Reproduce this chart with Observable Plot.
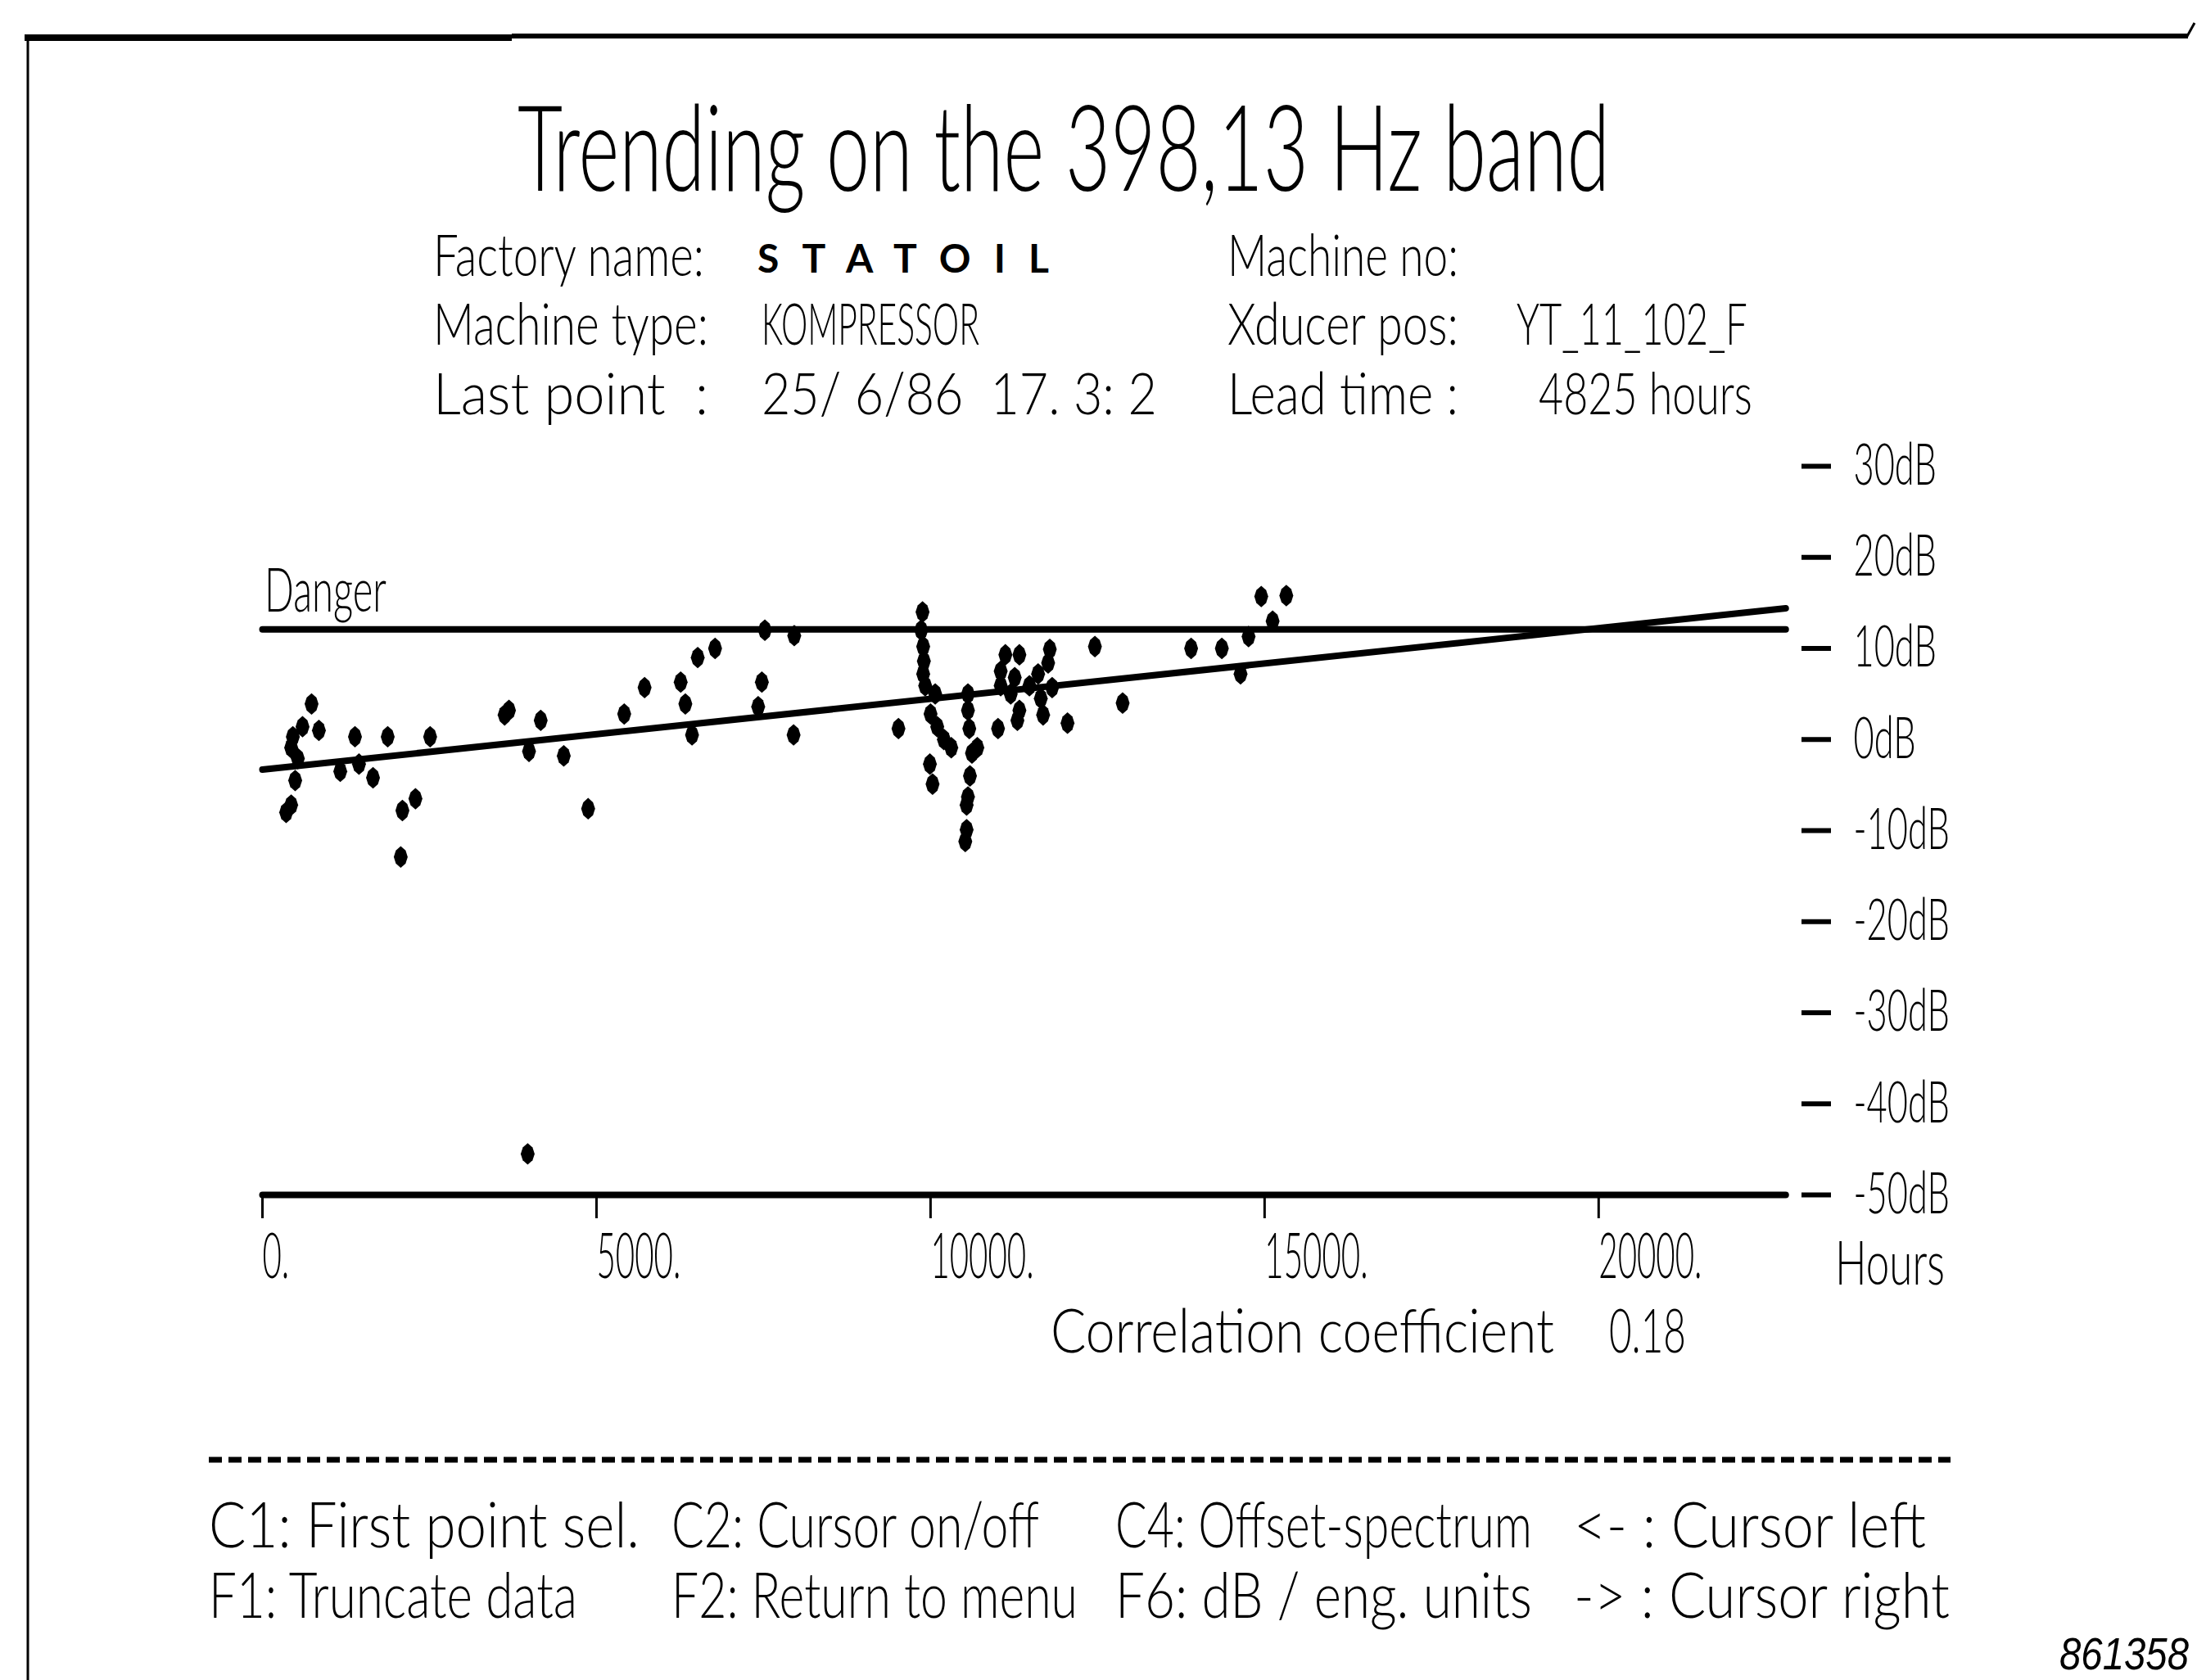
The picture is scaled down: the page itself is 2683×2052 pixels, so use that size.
<!DOCTYPE html>
<html><head><meta charset="utf-8">
<script src="https://cdn.jsdelivr.net/npm/d3@7"></script>
<script src="https://cdn.jsdelivr.net/npm/@observablehq/plot@0.6"></script>
<style>
html,body{margin:0;padding:0;background:#fff;}
#chart{position:relative;width:2683px;height:2052px;overflow:hidden;background:#fff;}
</style></head><body><div id="chart"></div>
<script>
// ---- data ----
const hours = [
  735, 455, 600, 845, 430, 530, 490, 430, 355,
  1385, 1875, 2510, 1165, 1445, 1655, 2290, 2095, 2070,
  3625, 3690, 4165, 3990, 4510, 4875,
  5415, 5720, 6260, 6330, 6430, 6515, 6775,
  7475, 7420, 7520, 7960, 7950,
  9520, 9880, 9860, 9890, 9900, 9890, 9920,
  10000, 10100, 10200, 10310, 10070, 9990, 10030,
  10560, 10560, 10580, 10700, 10620, 10590, 10560, 10540, 10540, 10520,
  11010, 11120, 11330, 11050, 11260, 11050, 11200, 11330, 11300, 11480, 11610, 11785, 11760, 11650, 11685, 11820,
  12050, 12460, 12875, 13900, 14360, 14640, 14760, 15120, 14950, 15325,
  3970
];
const levels = [
  3.9, 0.3, 1.4, 1.0, -0.9, -2.1, -4.5, -7.2, -8.0,
  0.3, 0.3, 0.3, -3.5, -2.7, -4.2, -6.5, -7.8, -12.9,
  2.7, 3.2, 2.1, -1.3, -1.8, -7.6,
  2.8, 5.7, 6.3, 3.9, 0.5, 9.0, 10.0,
  6.3, 3.6, 12.0, 11.4, 0.5,
  1.2, 14.0, 12.0, 10.2, 8.6, 7.2, 5.9,
  2.8, 1.4, 0.0, -0.9, 5.0, -2.7, -4.9,
  5.0, 3.2, 1.2, -0.9, -1.5, -4.0, -6.3, -7.2, -9.9, -11.2,
  1.2, 9.3, 9.3, 7.5, 6.8, 5.9, 5.0, 3.2, 2.1, 5.9, 7.2, 9.9, 8.4, 4.5, 2.7, 5.7,
  1.8, 10.2, 4.0, 10.0, 10.0, 7.2, 11.3, 13.0, 15.7, 15.8,
  -45.5
];
const dangerLevel = 12.1;
const lineHours = [0, 22800];        // extent of the danger line, trend line and base line
const trendLevels = [-3.3, 14.4];    // regression (trend) line at both ends
const baseLevel = -50;
const yTicks = [30, 20, 10, 0, -10, -20, -30, -40, -50];
const xTicks = [0, 5000, 10000, 15000, 20000];

// ---- tables built from the arrays ----
const points = hours.map((h, i) => ({h, db: levels[i]}));
const trend = lineHours.map((h, i) => ({h, db: trendLevels[i]}));
const danger = lineHours.map(h => ({h, db: dangerLevel}));
const base = lineHours.map(h => ({h, db: baseLevel}));

const FONT = "Lato, 'DejaVu Sans', sans-serif";
const FW = 300;

// tall plotter-style blob
const blob = {
  draw(ctx, size) {
    const R = Math.sqrt(size / Math.PI);
    const w = R, h = 1.55 * R;
    ctx.moveTo(0, -h);
    ctx.lineTo(0.7 * w, -0.6 * h);
    ctx.lineTo(w, 0);
    ctx.lineTo(0.7 * w, 0.6 * h);
    ctx.lineTo(0, h);
    ctx.lineTo(-0.7 * w, 0.6 * h);
    ctx.lineTo(-w, 0);
    ctx.lineTo(-0.7 * w, -0.6 * h);
    ctx.closePath();
  }
};

const plot = Plot.plot({
  width: 2683,
  height: 2052,
  marginLeft: 320,
  marginRight: 484,
  marginTop: 569,
  marginBottom: 593,
  style: {fontFamily: FONT, fontWeight: FW, background: "white", color: "black"},
  x: {domain: [0, 23030]},
  y: {domain: [-50, 30]},
  marks: [
    Plot.axisY(yTicks, {anchor: "right", tickSize: 36, tickPadding: 28, strokeWidth: 6,
      tickFormat: d => `${d}dB`, textAnchor: "start", fontSize: 70, label: null}),
    Plot.axisX(xTicks, {anchor: "bottom", tickSize: 29, tickPadding: 19, strokeWidth: 3,
      tickFormat: d => `${d}.`, textAnchor: "start", fontSize: 76, label: null}),
    Plot.line(base, {x: "h", y: "db", stroke: "black", strokeWidth: 8}),
    Plot.line(danger, {x: "h", y: "db", stroke: "black", strokeWidth: 8}),
    Plot.line(trend, {x: "h", y: "db", stroke: "black", strokeWidth: 8}),
    Plot.dot(points, {x: "h", y: "db", r: 8.5, symbol: blob, fill: "black", stroke: "none"})
  ]
});

document.getElementById("chart").appendChild(plot);
const svg = d3.select(plot);

// condense axis labels like the plotter font (scale around each label's anchor)
function condense(sel, factor) {
  sel.each(function() {
    const tr = this.getAttribute("transform") || "";
    const x = +(this.getAttribute("x") || 0);
    this.setAttribute("transform", `${tr} translate(${x},0) scale(${factor},1) translate(${-x},0)`);
  });
}
condense(svg.selectAll('g[aria-label="y-axis tick label"] text'), 0.62);
condense(svg.selectAll('g[aria-label="x-axis tick label"] text'), 0.53);

function label(str, x, y, size, width, opts = {}) {
  const t = svg.append("text")
    .attr("x", 0).attr("y", 0)
    .attr("font-size", size)
    .attr("font-family", opts.family || FONT)
    .attr("font-weight", opts.weight || FW)
    .attr("text-anchor", "start")
    .attr("fill", "black")
    .style("white-space", "pre")
    .text(str);
  if (opts.italic) t.attr("font-style", "italic");
  const w = t.node().getComputedTextLength();
  let s = 1;
  if (opts.spread) {
    const n = str.length;
    t.attr("letter-spacing", Math.max(0, (width - w) / (n - 0.75)));
  } else if (width) {
    s = width / w;
  }
  t.attr("transform", `translate(${x},${y}) scale(${s},1)`);
  return t;
}

// frame
svg.append("line").attr("x1", 30).attr("x2", 625).attr("y1", 46).attr("y2", 46).attr("stroke", "black").attr("stroke-width", 8);
svg.append("line").attr("x1", 625).attr("x2", 2672).attr("y1", 44).attr("y2", 44).attr("stroke", "black").attr("stroke-width", 6);
svg.append("line").attr("x1", 34).attr("x2", 34).attr("y1", 42).attr("y2", 2052).attr("stroke", "black").attr("stroke-width", 3);
svg.append("line").attr("x1", 2670).attr("x2", 2680).attr("y1", 46).attr("y2", 28).attr("stroke", "black").attr("stroke-width", 3);

// title & header
label("Trending on the 398,13 Hz band", 632, 233, 146, 1334);
label("Factory name:", 529, 337, 71, 331);
label("STATOIL", 925, 333, 48, 363, {weight: 700, spread: true});
label("Machine no:", 1499, 337, 71, 282);
label("Machine type:", 529, 421, 71, 336);
label("KOMPRESSOR", 930, 421, 71, 266);
label("Xducer pos:", 1499, 421, 71, 282);
label("YT_11_102_F", 1852, 421, 71, 282);
label("Last point  :", 529, 506, 71, 336);
label("25/ 6/86  17. 3: 2", 930, 506, 71, 483);
label("Lead time :", 1499, 506, 71, 282);
label("4825 hours", 1879, 506, 71, 261);

// chart annotations
label("Danger", 323, 747, 75, 149);
label("Hours", 2241, 1569, 74, 134);
label("Correlation coefficient", 1283, 1652, 74, 615);
label("0.18", 1965, 1652, 74, 94);

// separator & menu
svg.append("line").attr("x1", 255).attr("x2", 2382).attr("y1", 1783).attr("y2", 1783)
  .attr("stroke", "black").attr("stroke-width", 7).attr("stroke-dasharray", "16 8");
label("C1: First point sel.", 255, 1890, 76, 526);
label("C2: Cursor on/off", 820, 1890, 76, 449);
label("C4: Offset-spectrum", 1362, 1890, 76, 509);
label("<- : Cursor left", 1922, 1890, 76, 430);
label("F1: Truncate data", 255, 1976, 76, 450);
label("F2: Return to menu", 820, 1976, 76, 496);
label("F6: dB / eng. units", 1362, 1976, 76, 509);
label("-> : Cursor right", 1922, 1976, 76, 459);

label("861358", 2515, 2039, 56, 158, {family: "'Liberation Sans', Arial, sans-serif", italic: true, weight: 400});
</script>
</body></html>
